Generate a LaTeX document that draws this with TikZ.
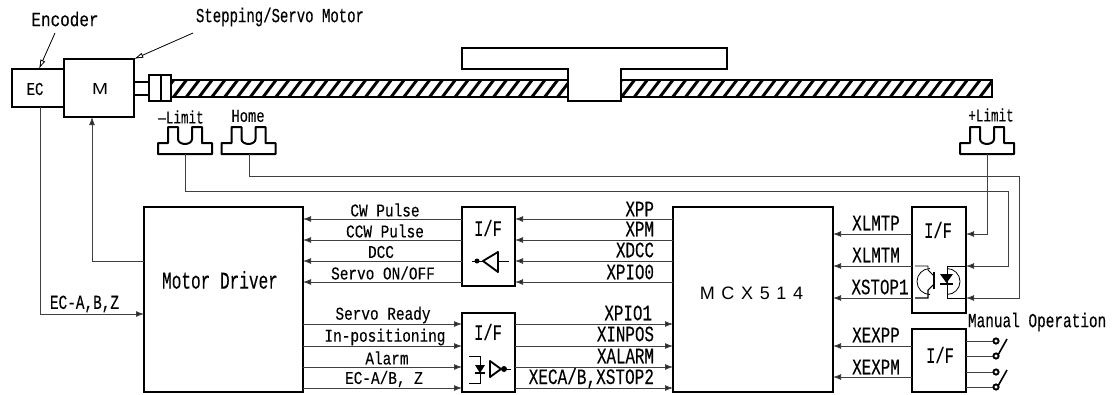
\documentclass[tikz,border=0pt]{standalone}
\usepackage{fontspec}
\usepackage{graphicx}
\setmainfont[FakeBold=0.25]{Liberation Mono}
\newfontfamily\sansf{Liberation Sans}
\usetikzlibrary{arrows.meta}
% #1 font size in px, #2 horizontal scale, #3 text
\newcommand{\lbl}[3]{\scalebox{\fpeval{#2*0.75}}[0.75]{\fontsize{#1}{#1}\selectfont #3}}
\tikzset{
  x=0.75pt,y=-0.75pt,
  box/.style={draw,line width=1.5pt,fill=none,anchor=north west,inner sep=0pt,outer sep=0pt},
  thick line/.style={line width=1.5pt},
  wire/.style={line width=0.7pt,draw=black!75},
  sig/.style={wire,-{Latex[length=6pt,width=4.5pt,fill=black!85]}},
  txt/.style={inner sep=0pt,outer sep=0pt},
  ann/.style={line width=0.6pt,-{Latex[length=7pt,width=4pt,open]}},
}
\begin{document}
\begin{tikzpicture}
\useasboundingbox (0,0) rectangle (1114,394);
\fill[white] (0,0) rectangle (1114,394);
% shaft
\begin{scope}
\clip (172,81) rectangle (992,96);
\foreach \i in {-1,...,70}{
  \draw[line width=2.2pt] ({172+\i*12.8},99) -- ({172+\i*12.8+16},78);
}
\end{scope}
\draw[thick line] (172,80) -- (992,80) -- (992,96.5) -- (172,96.5);
% slider
\draw[thick line,fill=white] (568,69) -- (462,69) -- (462,48) -- (727,48) -- (727,69) -- (621,69) -- (621,101) -- (568,101) -- cycle;
% motor
\node[box,minimum width=39pt,minimum height=28.5pt] (ec) at (12,69) {};
\node[box,minimum width=52.5pt,minimum height=43.5pt] (m) at (64,59) {};
\node[box,minimum width=16.5pt,minimum height=19.5pt] (cp) at (149,75) {};
\draw[thick line] (161,75) -- (161,101);
\draw[thick line] (m.east |- 0,82) -- (cp.west |- 0,82);
\draw[thick line] (m.east |- 0,95) -- (cp.west |- 0,95);
\node[txt] (ectxt) at (35,89) {\lbl{18}{.78}{EC}};
\node[txt] (mtxt) at (100,89) {\scalebox{1.2}[1]{\sansf\fontsize{12}{12}\selectfont M}};
\node[txt] (encl) at (65,19) {\lbl{20}{.8}{Encoder}};
\node[txt] (motl) at (280,17) {\lbl{20}{.7}{Stepping/Servo Motor}};
\coordinate (encs) at (55,33);
\coordinate (mots) at (193,33);
\draw[ann] (encs) -- (ec.north -| 39,0);
\draw[ann] (mots) -- (m.north east);
% sensors
\newcommand{\sensor}[2]{%
 \begin{scope}[shift={(#1,0)}]
 \draw[thick line,line join=round] (0,143) -- (0,154) -- (54,154) -- (54,143) -- (44,143) -- (44,127) -- (34,127) -- (34,139) arc[start angle=0,end angle=180,x radius=7,y radius=5] -- (20,127) -- (10,127) -- (10,143) -- cycle;
 \coordinate (#2) at (27.5,154);
 \end{scope}}
\sensor{158}{sa}
\sensor{221.5}{sb}
\sensor{960}{sc}
\node[txt] (la) at (181,117) {\lbl{18}{.7}{—Limit}};
\node[txt] (lb) at (248,116) {\lbl{18}{.77}{Home}};
\node[txt] (lc) at (991,115) {\lbl{18}{.7}{+Limit}};
% boxes
\node[box,minimum width=119.25pt,minimum height=138.75pt] (drv) at (144,207) {};
\node[box,minimum width=39.75pt,minimum height=59.25pt] (if1) at (462,207) {};
\node[box,minimum width=39.75pt,minimum height=59.25pt] (if2) at (462,313) {};
\node[box,minimum width=120pt,minimum height=138.75pt] (mcx) at (673,207) {};
\node[box,minimum width=40.5pt,minimum height=79.5pt] (if3) at (912,207) {};
\node[box,minimum width=40.5pt,minimum height=47.25pt] (if4) at (912,329) {};
\node[txt] (t1) at (220,280) {\lbl{24}{.67}{Motor Driver}};
\node[txt] (t2) at (751.5,293) {\sansf\fontsize{13.5}{13.5}\selectfont M\hspace{5pt}C\hspace{5pt}X\hspace{5pt}5\hspace{5pt}1\hspace{5pt}4};
\node[txt] (i1) at (488,228) {\lbl{22}{.7}{I/F}};
\node[txt] (i2) at (488,332) {\lbl{22}{.7}{I/F}};
\node[txt] (i3) at (938,230) {\lbl{22}{.7}{I/F}};
\node[txt] (i4) at (940,355) {\lbl{22}{.7}{I/F}};
% encoder, motor wires
\draw[sig] (ec.south -| 40,0) |- (drv.west |- 0,314);
\draw[sig] (drv.west |- 0,261) -| (m.south -| 92,0);
\node[txt] (l0) at (84.5,304) {\lbl{20}{.72}{EC-A,B,Z}};
% sensor wires
\draw[sig] (sc) |- (if3.east |- 0,234);
\draw[sig] (sa) |- (1008,191) |- (if3.east |- 0,266);
\draw[sig] (sb) |- (1019,176) |- (if3.east |- 0,298);
% signals
\foreach \y in {219,240,261,282}{
  \draw[sig] (if1.west |- 0,\y) -- (drv.east |- 0,\y);
  \draw[sig] (mcx.west |- 0,\y) -- (if1.east |- 0,\y);
}
\foreach \y in {324,346,367,388}{
  \draw[sig] (drv.east |- 0,\y) -- (if2.west |- 0,\y);
  \draw[sig] (if2.east |- 0,\y) -- (mcx.west |- 0,\y);
}
\foreach \y in {234,266,298}{
  \draw[sig] (if3.west |- 0,\y) -- (mcx.east |- 0,\y);
}
\foreach \y in {346,377}{
  \draw[sig] (if4.west |- 0,\y) -- (mcx.east |- 0,\y);
}
% left labels
\node[txt] (a1) at (385,210) {\lbl{18}{.8}{CW Pulse}};
\node[txt] (a2) at (385,231) {\lbl{18}{.8}{CCW Pulse}};
\node[txt] (a3) at (381,252) {\lbl{18}{.8}{DCC}};
\node[txt] (a4) at (383,273) {\lbl{18}{.8}{Servo ON/OFF}};
\node[txt] (a5) at (383,315) {\lbl{18}{.8}{Servo Ready}};
\node[txt] (a6) at (385,337) {\lbl{18}{.8}{In-positioning}};
\node[txt] (a7) at (387,358) {\lbl{18}{.8}{Alarm}};
\node[txt] (a8) at (384,379) {\lbl{18}{.8}{EC-A/B, Z}};
% right labels
\node[txt,anchor=east] (b1) at (654,209) {\lbl{22}{.72}{XPP}};
\node[txt,anchor=east] (b2) at (654,229) {\lbl{22}{.72}{XPM}};
\node[txt,anchor=east] (b3) at (654,250) {\lbl{22}{.72}{XDCC}};
\node[txt,anchor=east] (b4) at (654,272) {\lbl{22}{.72}{XPIO0}};
\node[txt,anchor=east] (b5) at (652,313) {\lbl{22}{.72}{XPIO1}};
\node[txt,anchor=east] (b6) at (654,334) {\lbl{22}{.72}{XINPOS}};
\node[txt,anchor=east] (b7) at (654,356) {\lbl{22}{.72}{XALARM}};
\node[txt,anchor=east] (b8) at (654,378) {\lbl{22}{.73}{XECA/B,XSTOP2}};
\node[txt] (c1) at (876,223) {\lbl{22}{.72}{XLMTP}};
\node[txt] (c2) at (876,255) {\lbl{22}{.72}{XLMTM}};
\node[txt] (c3) at (880,287) {\lbl{22}{.72}{XSTOP1}};
\node[txt] (c4) at (876,335) {\lbl{22}{.72}{XEXPP}};
\node[txt] (c5) at (876,367) {\lbl{22}{.72}{XEXPM}};
\node[txt,anchor=west] (mo) at (968,322) {\lbl{20}{.72}{Manual Operation}};
% IF1 symbol
\draw[line width=1.4pt,line join=round] (483,261) -- (498,252) -- (498,272) -- cycle;
\fill (477,261) circle[radius=2.5];
\draw[line width=.6pt] (472,261) -- (483,261) (498,261) -- (509,261);
% IF2 symbol
\draw[line width=1.4pt,line join=round] (490,361) -- (501,369) -- (490,377) -- cycle;
\fill (504,369) circle[radius=3];
\draw[line width=.6pt] (506,369.5) -- (511,369.5);
\draw[line width=.6pt] (469,356) -- (480,356) -- (480,383) -- (469,383);
\fill (475,365) -- (485,365) -- (480,373) -- cycle;
\draw[line width=1.2pt] (475,373) -- (485,373);
% IF3 opto
\draw[line width=.6pt] (930,268.5) arc[start angle=270,end angle=90,radius=13];
\draw[line width=.6pt] (947,268.5) arc[start angle=270,end angle=450,radius=13];
\draw[line width=.6pt] (915,266) -- (928,266) -- (928,270) -- (934,276);
\draw[line width=.8pt] (915,298) -- (928,298) -- (928,290) -- (934,284);
\draw[line width=1.8pt] (934,272) -- (934,289);
\draw[line width=.6pt] (if3.east |- 0,266) -- (947,266) -- (947,298) -- (if3.east |- 0,298);
\fill (940,274) -- (953,274) -- (946.5,283) -- cycle;
\draw[line width=1.2pt] (940,284) -- (953,284);
% switches
\newcommand{\swt}[3]{%
 \coordinate (#1u) at (995,#2);
 \coordinate (#1d) at (995,#3);
 \draw[wire] (if4.east |- #1u) -- (#1u);
 \draw[wire] (if4.east |- #1d) -- (#1d);
 \draw[line width=1.4pt,fill=white] (996,#2) circle[radius=2.6];
 \draw[line width=1.4pt,fill=white] (996,#3) circle[radius=2.6];
 \draw[line width=1.2pt] (998,#3-1) -- (1007,#3-17);
}
\swt{p}{341}{356}
\swt{q}{372}{387}
\end{tikzpicture}
\end{document}
